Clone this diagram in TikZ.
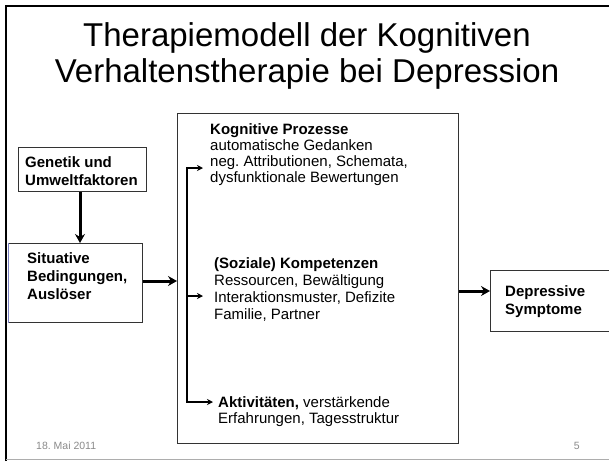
\documentclass[tikz,border=0pt]{standalone}
\usepackage{fontspec}
\setmainfont{Liberation Sans}
\usetikzlibrary{arrows.meta,calc}
\frenchspacing
\definecolor{boxline}{HTML}{333333}
\definecolor{footgray}{HTML}{8A8A8A}
\definecolor{edgeblue}{HTML}{7A7FC0}
\tikzset{
  box/.style={draw=boxline, line width=0.9pt, anchor=north west, inner sep=0pt},
  txt/.style={anchor=north west, inner sep=0pt, align=left},
  bigarrow/.style={line width=3pt, -{Stealth[length=9pt,width=10pt,inset=3pt]}},
  smallarrow/.style={line width=2pt, -{Stealth[length=6pt,width=6pt,inset=2pt]}},
  trunk/.style={line width=2pt},
  foot/.style={inner sep=0pt, text=footgray, font=\fontsize{10.5}{12}\selectfont}
}
\begin{document}
\begin{tikzpicture}[x=1pt,y=-1pt]
\useasboundingbox (0,0) rectangle (609,461);
% slide frame
\draw[line width=2pt] (6,461) -- (6,6) -- (612,6);
\draw[footgray!70, line width=1.2pt] (6,459.5) -- (612,459.5);
% title
\node[inner sep=0pt, align=center, font=\fontsize{33}{36}\selectfont] (title) at (307,56)
  {Therapiemodell der Kognitiven\\Verhaltenstherapie bei Depression};
% boxes
\node[box, minimum width=128pt, minimum height=44pt] (gen) at (18,147) {};
\node[box, minimum width=134pt, minimum height=79pt] (sit) at (8,243) {};
\draw[edgeblue, line width=0.9pt] (sit.north west) -- (sit.south west);
\node[box, minimum width=281pt, minimum height=330pt] (big) at (177,113) {};
\node[box, minimum width=130pt, minimum height=61pt] (dep) at (490,270) {};
% texts
\node[txt, font=\fontsize{15}{18}\selectfont\bfseries] (gentxt) at (25,156) {Genetik und\\Umweltfaktoren};
\node[txt, font=\fontsize{15}{18}\selectfont\bfseries] (sittxt) at (27,252) {Situative\\Bedingungen,\\Ausl\"oser};
\node[txt, font=\fontsize{15}{18}\selectfont\bfseries] (deptxt) at (505,285) {Depressive\\Symptome};
\node[txt, font=\fontsize{15}{16}\selectfont] (kog) at (210,123)
  {\textbf{Kognitive Prozesse}\\automatische Gedanken\\neg. Attributionen, Schemata,\\dysfunktionale Bewertungen};
\node[txt, font=\fontsize{15}{17}\selectfont] (soz) at (214,257)
  {\textbf{(Soziale) Kompetenzen}\\Ressourcen, Bew\"altigung\\Interaktionsmuster, Defizite\\Familie, Partner};
\node[txt, font=\fontsize{15}{16}\selectfont] (akt) at (218,396)
  {\textbf{Aktivit\"aten,} verst\"arkende\\Erfahrungen, Tagesstruktur};
% footer
\node[foot, anchor=base west] (date) at (36,449) {18. Mai 2011};
\node[foot, anchor=base east] (pnum) at (580,449) {5};
% connectors
\draw[bigarrow] (gen.south -| 80,0) -- (sit.north -| 80,0);
\draw[bigarrow] (sit.east |- 0,281) -- (big.west |- 0,281);
\coordinate (depin) at (490,291);
\draw[bigarrow] (big.east |- depin) -- (depin);
% bracket
\coordinate (ttop) at (187,168);
\coordinate (tmid) at (187,296);
\coordinate (tbot) at (187,402);
\draw[trunk] (ttop) -- (tbot);
\draw[smallarrow] ([xshift=-1pt]ttop) -- ([xshift=-7pt]ttop -| kog.west);
\draw[smallarrow] (tmid) -- ([xshift=-11pt]tmid -| soz.west);
\draw[smallarrow] ([xshift=-1pt]tbot) -- ([xshift=-5pt]tbot -| akt.west);
\end{tikzpicture}
\end{document}
